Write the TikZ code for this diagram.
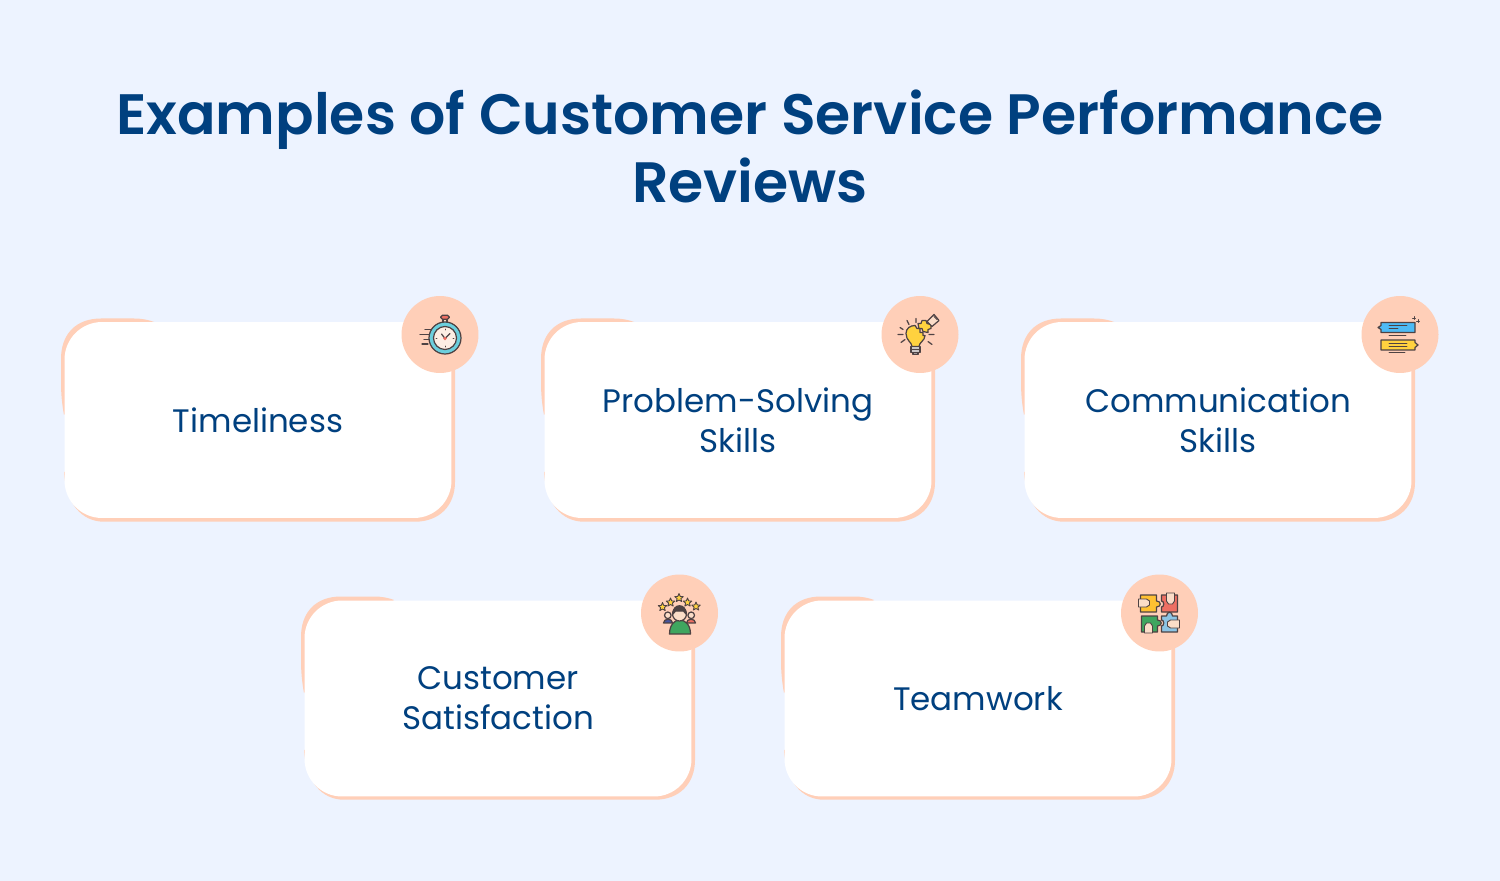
\documentclass[tikz,border=0pt]{standalone}
\usepackage{fontspec}
\setmainfont{Poppins}
\newfontfamily\titlefont{Poppins SemiBold}
\definecolor{pagebg}{HTML}{EDF3FF}
\definecolor{peach}{HTML}{FFCFB8}
\definecolor{navy}{HTML}{00407F}
\definecolor{ink}{HTML}{4E4243}
\definecolor{skin}{HTML}{FBDDC8}
\definecolor{teal}{HTML}{6CCFDD}
\definecolor{tomato}{HTML}{EE6F63}
\definecolor{sun}{HTML}{FFD23F}
\definecolor{sky}{HTML}{4DBBF5}
\definecolor{leaf}{HTML}{3FA65F}
\definecolor{pale}{HTML}{8CC4E4}
\definecolor{royal}{HTML}{47559F}
\tikzset{
    line/.style={draw=ink,line width=0.7pt,line cap=round,line join=round},
    thin line/.style={draw=ink,line width=0.5pt,line cap=round,line join=round},
    card/.style={fill=white,minimum width=7.74cm,minimum height=3.92cm,rounded corners=0.75cm,
        align=center,text=navy,inner sep=0pt,font=\fontsize{18.5}{22.7}\selectfont},
    badge/.style={circle,fill=peach,minimum size=1.54cm,inner sep=0pt},
    cardback/.pic={
        \fill[peach] (0,93) .. controls (-2,82) and (-3,72) .. (-3,60) -- (-3,37)
            .. controls (-3,12) and (12,-3.5) .. (37,-3.5) -- (70,-3.5)
            .. controls (78,-3.5) and (85,-2) .. (90,0) -- (40,40) -- cycle;
        \fill[peach] (387,30) -- (391,30) -- (391,160) .. controls (391,184) and (375,199.7) .. (351,199.7)
            -- (40,199.7) .. controls (18,199.7) and (2,182) .. (0,150) -- (200,100) -- cycle;
    },
    stopwatch/.pic={
        \filldraw[line,fill=tomato,rounded corners=1pt] (0.7,-19.3) rectangle (9.3,-15.3);
        \filldraw[line,fill=skin] (3,-15.3) rectangle (7,-11.5);
        \filldraw[line,fill=teal] (5,3.5) circle[radius=16];
        \filldraw[line,fill=skin!50!white] (5,3.5) circle[radius=11.5];
        \draw[line] (-15,-5) -- (-9,-5) (-20,0) -- (-11,0) (-16,5) -- (-11,5) (-18,9.5) -- (-12,9.5);
        \draw[line] (5,4) -- (10,-1) (5,4) -- (1.5,-0.5);
        \fill[tomato] (5,4) circle[radius=1.8];
        \draw[thin line] (5,-5.5) -- (5,-4.5) (5,11.5) -- (5,12.5) (-4,3.5) -- (-3,3.5) (13,3.5) -- (14,3.5);
    },
    idea/.pic={
        \filldraw[line,fill=sun] (-8,12) .. controls (-8,8) and (-14,6) .. (-14,-1)
            .. controls (-14,-6) and (-10,-9) .. (-5,-9) -- (-3,-6) -- (0,-6) -- (0,-2) -- (3,-2) -- (3,1) -- (5,1)
            .. controls (5,6) and (-1,8) .. (-1,12) -- cycle;
        \filldraw[line,fill=white!70!ink] (-9,12) rectangle (0,18);
        \draw[thin line] (-9,15) -- (0,15);
        \filldraw[line,fill=ink!55!white] (-7,18) rectangle (-2,20);
        \filldraw[line,fill=sun] (-2,-11) -- (1,-11) -- (2,-14) -- (6,-14) -- (7,-11) -- (11,-10) -- (11,-6) -- (8,-5) -- (8,-2) -- (3,-3) -- (2,-6) -- (-1,-6) -- cycle;
        \filldraw[line,fill=skin] (7,-13) -- (14,-20) -- (19,-14) -- (12,-8) -- cycle;
        \draw[thin line] (14,-18) -- (17,-15);
        \draw[line] (-22,0) -- (-17,0) (-19,8) -- (-15,5) (-13,-14) -- (-11,-10)
            (-4,-16) -- (-4,-12) (9,0) -- (14,0) (8,7) -- (12,10) (-20,-7) -- (-17,-5);
    },
    chatting/.pic={
        \filldraw[line,fill=sky] (-19,-12) -- (15,-12) -- (15,-2) -- (-19,-2) -- (-19,-5) -- (-22,-7) -- (-19,-9) -- cycle;
        \filldraw[line,fill=sun] (-19,5.5) -- (15,5.5) -- (15,8) -- (18,10.5) -- (15,13) -- (15,15.5) -- (-19,15.5) -- cycle;
        \draw[thin line] (-11,-9) -- (7,-9) (-11,-6) -- (-2,-6) (-11,1) -- (6,1)
            (-11,8.5) -- (7,8.5) (-11,11.5) -- (7,11.5) (-11,18) -- (5,18);
        \draw[thin line] (14,-18) -- (14,-15) (12.5,-16.5) -- (15.5,-16.5) (18,-15) -- (18,-12) (16.5,-13.5) -- (19.5,-13.5);
    },
    rating/.pic={
        \filldraw[line,fill=royal] (-16,10) .. controls (-16,5) and (-7,5) .. (-7,10) -- cycle;
        \filldraw[line,fill=skin] (-11.7,2.3) circle[radius=3.3];
        \filldraw[line,fill=tomato] (7,10) .. controls (7,5) and (16,5) .. (16,10) -- cycle;
        \filldraw[line,fill=skin] (11.7,2.3) circle[radius=3.3];
        \filldraw[line,fill=leaf] (-10,21) .. controls (-10,12) and (-5,7) .. (0,7) .. controls (6,7) and (11,12) .. (11,21) -- cycle;
        \filldraw[line,fill=skin] (0,1) circle[radius=7];
        \filldraw[line,fill=ink] (-6.5,1) .. controls (-7,-10) and (7,-10) .. (6.5,1) -- (4,-2) -- (-4,-2) -- cycle;
        \pic at (-17,-6) {ratingstar};
        \pic at (-9,-10.5) {ratingstar};
        \pic at (-0.5,-15) {ratingstar};
        \pic at (8,-10.5) {ratingstar};
        \pic at (16.5,-6.5) {ratingstar};
    },
    ratingstar/.pic={
        \filldraw[thin line,fill=sun] (0,-4.5) -- (1.2,-1.6) -- (4.3,-1.4) -- (1.9,0.6) -- (2.7,3.6) -- (0,2)
            -- (-2.7,3.6) -- (-1.9,0.6) -- (-4.3,-1.4) -- (-1.2,-1.6) -- cycle;
    },
    jigsaw/.pic={
        \filldraw[line,fill=sun!80!orange] (-19,-18) -- (-3,-18) -- (-3,-12) .. controls (2,-12) and (2,-6) .. (-3,-6) -- (-3,-1) -- (-19,-1) -- cycle;
        \filldraw[line,fill=tomato] (2,-18) -- (18,-18) -- (18,-1) -- (2,-1) -- (2,-6) .. controls (5,-6) and (5,-12) .. (2,-12) -- cycle;
        \filldraw[line,fill=leaf] (-18,3) -- (-2,3) -- (-2,7) .. controls (3,7) and (3,13) .. (-2,13) -- (-2,19) -- (-18,19) -- cycle;
        \filldraw[line,fill=pale] (2,3) -- (7,3) .. controls (7,-2) and (13,-2) .. (13,3) -- (18,3) -- (18,19) -- (2,19) -- (2,13) .. controls (5,13) and (5,7) .. (2,7) -- cycle;
        \filldraw[thin line,fill=skin] (-21,-14) -- (-13,-14) -- (-10,-12) -- (-10,-8) -- (-13,-6) -- (-21,-6) -- cycle;
        \filldraw[thin line,fill=skin] (7,-20) -- (7,-12) -- (9,-9) -- (13,-9) -- (15,-12) -- (15,-20) -- cycle;
        \filldraw[thin line,fill=skin] (-15,20) -- (-15,13) -- (-13,10) -- (-9,10) -- (-7,13) -- (-7,20) -- cycle;
        \filldraw[thin line,fill=skin] (20,7) -- (11,7) -- (8,9) -- (8,13) -- (11,15) -- (20,15) -- cycle;
    }
}

\begin{document}
\begin{tikzpicture}[x=0.02cm,y=-0.02cm]

    \useasboundingbox (0,0) rectangle (1500,881);
    \fill[pagebg] (0,0) rectangle (1500,881);

    \node[text=navy,align=center,font=\fontsize{32.4}{38.5}\selectfont\titlefont] (title) at (750,146.5)
        {Examples of Customer Service Performance\\Reviews};

    % peach edges behind the cards
    \pic at (64,322) {cardback};
    \pic at (544,322) {cardback};
    \pic at (1024,322) {cardback};
    \pic at (304,600) {cardback};
    \pic at (784,600) {cardback};

    \node[card] (timeliness) at (258,420) {Timeliness};
    \node[card] (solving) at (738,420) {Problem-Solving\\Skills};
    \node[card] (communication) at (1218,420) {Communication\\Skills};
    \node[card] (satisfaction) at (498,698.5) {Customer\\Satisfaction};
    \node[card] (teamwork) at (978,698.5) {Teamwork};

    \node[badge] (b1) at (440,334.5) {};
    \node[badge] (b2) at (920,334.5) {};
    \node[badge] (b3) at (1400,334.5) {};
    \node[badge] (b4) at (679.5,613) {};
    \node[badge] (b5) at (1159.5,613) {};

    % icons
    \pic at (b1) {stopwatch};
    \pic at (b2) {idea};
    \pic at (b3) {chatting};
    \pic at (b4) {rating};
    \pic at (b5) {jigsaw};

\end{tikzpicture}
\end{document}
